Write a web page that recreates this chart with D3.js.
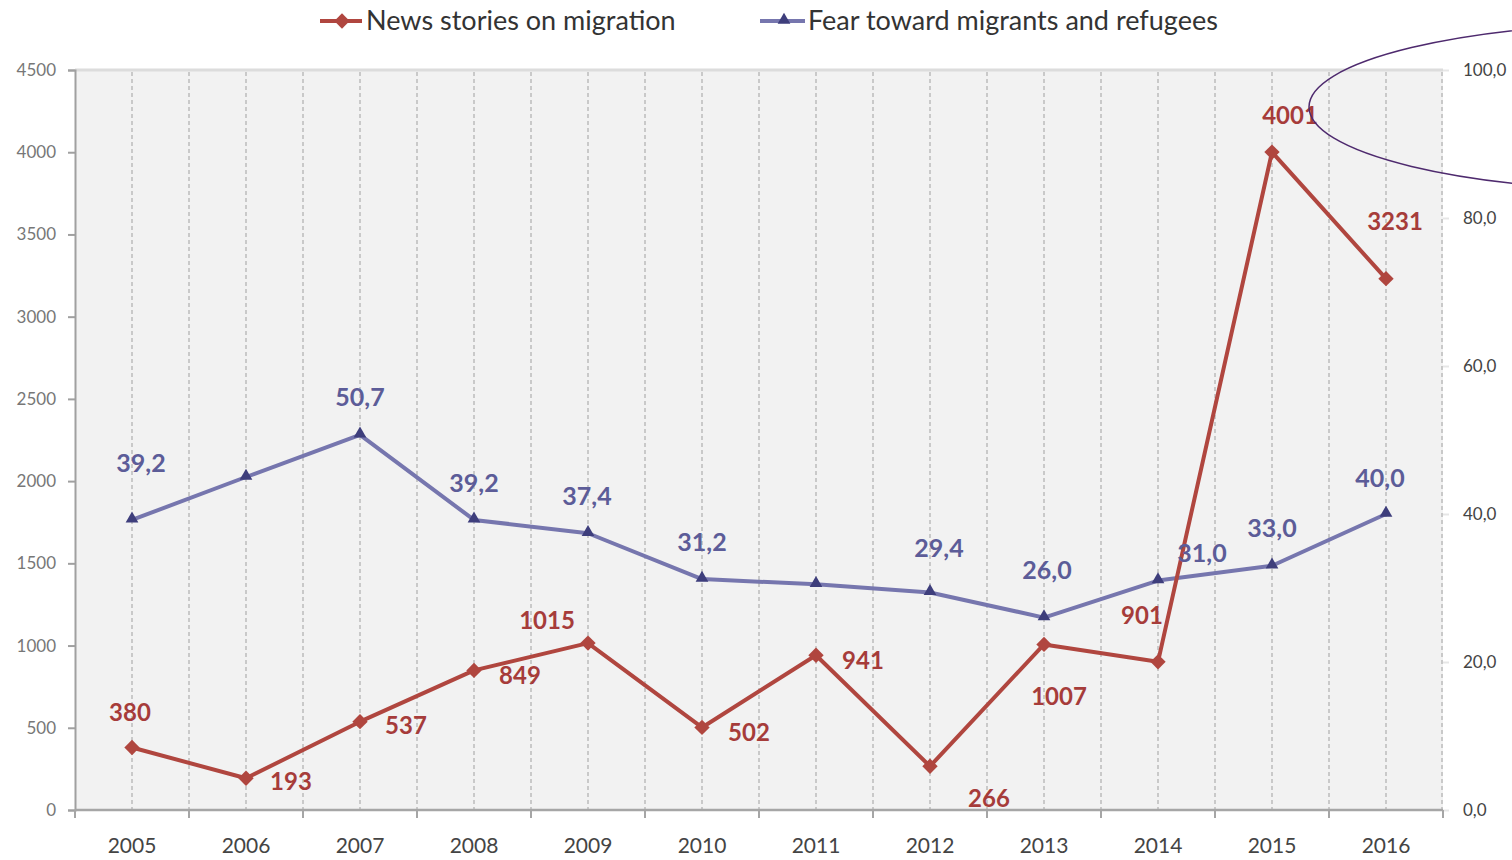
<!DOCTYPE html>
<html>
<head>
<meta charset="utf-8">
<script src="https://cdn.jsdelivr.net/npm/d3@7"></script>
<style>
  body { margin: 0; background: #fff; }
  svg { display: block; font-family: Lato, "Open Sans", sans-serif; }
</style>
</head>
<body>
<svg id="chart" width="1512" height="860"></svg>
<script>
// data
var years = ["2005","2006","2007","2008","2009","2010","2011","2012","2013","2014","2015","2016"];
var newsStories = [380, 193, 537, 849, 1015, 502, 941, 266, 1007, 901, 4001, 3231];
var fearValues = [39.2, 45.0, 50.7, 39.2, 37.4, 31.2, 30.5, 29.4, 26.0, 31.0, 33.0, 40.0];
var leftTicks = [0, 500, 1000, 1500, 2000, 2500, 3000, 3500, 4000, 4500];
var rightTicks = [0, 20, 40, 60, 80, 100];
var seriesNames = ["News stories on migration", "Fear toward migrants and refugees"];

// label placement (offset from point, baseline), null = no label
var newsLabelPos = [[-2,-27],[45,12],[46,12],[46,14],[-41,-14],[47,14],[47,14],[59,41],[15,61],[-16,-38],[18,-28],[9,-49]];
var fearLabelPos = [[9,-48],null,[0,-29],[0,-28],[-1,-28],[0,-28],null,[9,-35],[3,-39],[44,-19],[0,-29],[-6,-27]];

// plot box (note: "top" is taken by window.top)
var plotLeft = 75, plotRight = 1443, plotTop = 70, plotBottom = 810;

var redLine = "#b0463f", redLabel = "#a63c3a";
var blueLine = "#7676ae", blueMark = "#3e3e7c", blueLabel = "#5c5c98";

var svg = d3.select("#chart");

var x = d3.scaleBand().domain(years).range([plotLeft, plotRight]).padding(0);
var bw = x.bandwidth();
var cx = function(y) { return x(y) + bw / 2; };
var yLeft = d3.scaleLinear().domain([0, 4500]).range([plotBottom, plotTop]);
var yRight = d3.scaleLinear().domain([0, 100]).range([plotBottom, plotTop]);

var comma = d3.formatLocale({decimal: ",", thousands: ".", grouping: [3], currency: ["", ""]}).format(".1f");

// plot background
svg.append("rect")
    .attr("x", plotLeft).attr("y", plotTop)
    .attr("width", plotRight - plotLeft).attr("height", plotBottom - plotTop)
    .attr("fill", "#f2f2f2");

// top border
svg.append("line")
    .attr("x1", plotLeft).attr("x2", plotRight)
    .attr("y1", plotTop).attr("y2", plotTop)
    .attr("stroke", "#dcdcdc").attr("stroke-width", 3);

// dashed vertical grid, at centers and at boundaries
var gridX = [];
years.forEach(function(y, i) {
    gridX.push(cx(y));
    if (i > 0) gridX.push(x(y));
});
gridX.push(plotRight - 1);
svg.append("g").selectAll("line")
    .data(gridX).enter()
    .append("line")
    .attr("x1", function(d) { return d; }).attr("x2", function(d) { return d; })
    .attr("y1", plotTop + 2).attr("y2", plotBottom)
    .attr("stroke", "#c9c9c9").attr("stroke-width", 2)
    .attr("stroke-dasharray", "4,3");

// left axis
var gl = svg.append("g").attr("transform", "translate(" + plotLeft + ",0)")
    .call(d3.axisLeft(yLeft).tickValues(leftTicks).tickSize(7).tickPadding(12).tickFormat(d3.format("d")));
gl.select(".domain").attr("stroke", "#a0a0a0").attr("stroke-width", 2);
gl.selectAll(".tick line").attr("stroke", "#a0a0a0").attr("stroke-width", 2);
gl.selectAll(".tick text").attr("fill", "#777").style("font-size", "17px").style("font-family", "Lato, sans-serif");

// right axis (no domain line, faint ticks)
var gr = svg.append("g").attr("transform", "translate(" + plotRight + ",0)")
    .call(d3.axisRight(yRight).tickValues(rightTicks).tickSize(6).tickPadding(14).tickFormat(comma));
gr.select(".domain").remove();
gr.selectAll(".tick line").attr("stroke", "#e6e6e6").attr("stroke-width", 2);
gr.selectAll(".tick text").attr("fill", "#444").style("font-size", "17px").style("font-family", "Lato, sans-serif");

// bottom axis, ticks at category boundaries
var boundaries = years.map(function(y) { return x(y); }).concat([plotRight]);
svg.append("line")
    .attr("x1", plotLeft).attr("x2", plotRight)
    .attr("y1", plotBottom).attr("y2", plotBottom)
    .attr("stroke", "#a6a6a6").attr("stroke-width", 2.5);
svg.append("g").selectAll("line")
    .data(boundaries).enter()
    .append("line")
    .attr("x1", function(d) { return d; }).attr("x2", function(d) { return d; })
    .attr("y1", plotBottom).attr("y2", plotBottom + 8)
    .attr("stroke", "#a6a6a6").attr("stroke-width", 2);
svg.append("g").selectAll("text")
    .data(years).enter()
    .append("text")
    .attr("x", function(d) { return cx(d); })
    .attr("y", plotBottom + 43)
    .attr("text-anchor", "middle")
    .attr("fill", "#444")
    .style("font-size", "21px")
    .text(function(d) { return d; });

// lines
var newsLine = d3.line()
    .x(function(d, i) { return cx(years[i]); })
    .y(function(d) { return yLeft(d); });
var fearLine = d3.line()
    .x(function(d, i) { return cx(years[i]); })
    .y(function(d) { return yRight(d); });

svg.append("path").datum(fearValues)
    .attr("d", fearLine)
    .attr("fill", "none").attr("stroke", blueLine)
    .attr("stroke-width", 4).attr("stroke-linejoin", "round");

svg.append("path").datum(newsStories)
    .attr("d", newsLine)
    .attr("fill", "none").attr("stroke", redLine)
    .attr("stroke-width", 4).attr("stroke-linejoin", "round");

// markers
var diamond = d3.symbol().type(d3.symbolDiamond2).size(150);
var triangle = d3.symbol().type(d3.symbolTriangle).size(70);

svg.append("g").selectAll("path")
    .data(fearValues).enter()
    .append("path")
    .attr("d", triangle)
    .attr("transform", function(d, i) { return "translate(" + cx(years[i]) + "," + (yRight(d) - 1) + ")"; })
    .attr("fill", blueMark);

svg.append("g").selectAll("path")
    .data(newsStories).enter()
    .append("path")
    .attr("d", diamond)
    .attr("transform", function(d, i) { return "translate(" + cx(years[i]) + "," + yLeft(d) + ")"; })
    .attr("fill", redLine);

// data labels
svg.append("g").selectAll("text")
    .data(newsStories).enter()
    .append("text")
    .attr("x", function(d, i) { return cx(years[i]) + newsLabelPos[i][0]; })
    .attr("y", function(d, i) { return yLeft(d) + newsLabelPos[i][1]; })
    .attr("text-anchor", "middle")
    .attr("fill", redLabel)
    .style("font-size", "24px").style("font-weight", "bold")
    .text(function(d) { return d; });

var fearLabels = svg.append("g");
fearValues.forEach(function(d, i) {
    var p = fearLabelPos[i];
    if (!p) return;
    fearLabels.append("text")
        .attr("x", cx(years[i]) + p[0])
        .attr("y", yRight(d) + p[1])
        .attr("text-anchor", "middle")
        .attr("fill", blueLabel)
        .style("font-size", "25px").style("font-weight", "bold")
        .text(comma(d));
});

// legend
var lg = svg.append("g");
lg.append("line").attr("x1", 320).attr("x2", 362).attr("y1", 21).attr("y2", 21)
    .attr("stroke", redLine).attr("stroke-width", 4);
lg.append("path").attr("d", diamond).attr("transform", "translate(342,21)").attr("fill", redLine);
lg.append("text").attr("x", 366).attr("y", 30).attr("fill", "#333")
    .style("font-size", "27px").text(seriesNames[0]);

lg.append("line").attr("x1", 760).attr("x2", 805).attr("y1", 21).attr("y2", 21)
    .attr("stroke", blueLine).attr("stroke-width", 4);
lg.append("path").attr("d", triangle).attr("transform", "translate(784,20)").attr("fill", blueMark);
lg.append("text").attr("x", 808).attr("y", 30).attr("fill", "#333")
    .style("font-size", "27px").text(seriesNames[1]);

// hand-drawn ellipse annotation, running off the right edge
svg.append("ellipse")
    .attr("cx", 1659).attr("cy", 107)
    .attr("rx", 350).attr("ry", 84)
    .attr("fill", "none").attr("stroke", "#4e2a6e").attr("stroke-width", 1.5);
</script>
</body>
</html>
